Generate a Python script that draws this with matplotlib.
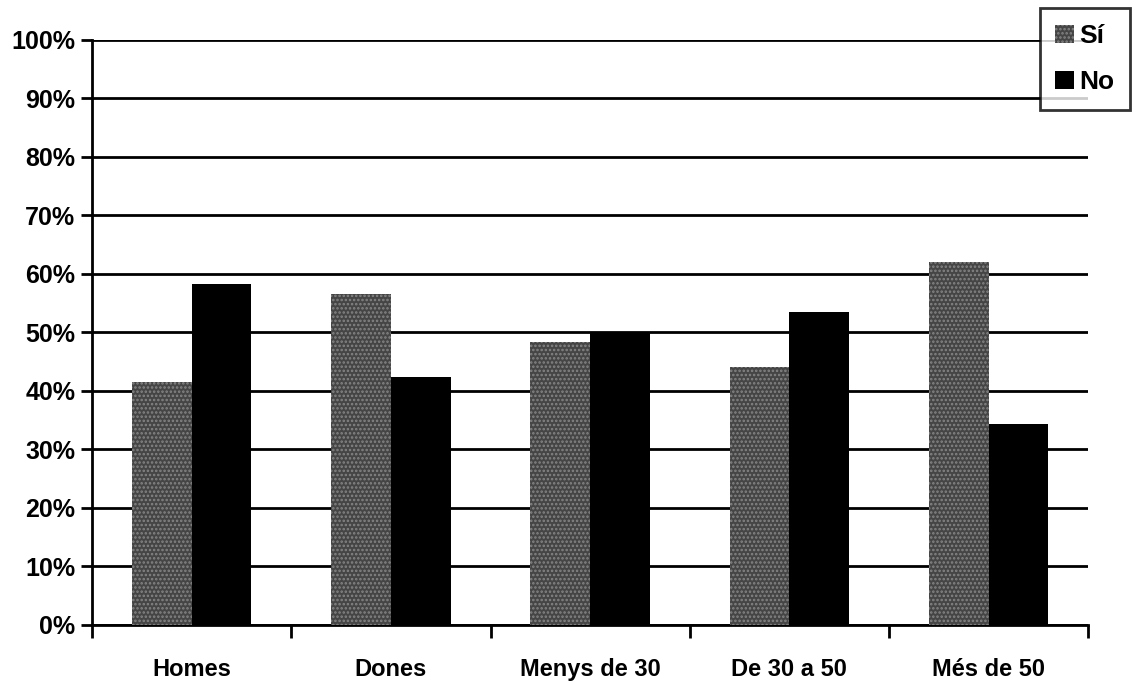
import numpy as np
import matplotlib.pyplot as plt
from matplotlib.ticker import PercentFormatter

categories = ['Homes', 'Dones', 'Menys de 30', 'De 30 a 50', 'Més de 50']
si_values = [41.5, 56.5, 48.3, 44.0, 62.0]
no_values = [58.3, 42.3, 49.8, 53.5, 34.3]
series_labels = ['Sí', 'No']

plt.rcParams['font.family'] = ['Liberation Sans', 'DejaVu Sans']
plt.rcParams['font.weight'] = 'bold'
plt.rcParams['hatch.linewidth'] = 1.2

fig = plt.figure(figsize=(11.37, 6.85), dpi=100)
ax = fig.add_axes([0.081, 0.088, 0.876, 0.854])

x = np.arange(len(categories))
width = 0.3
ax.bar(x - width / 2, si_values, width, color='#454545', edgecolor='#858585',
       hatch='....', linewidth=0, label=series_labels[0], zorder=3)
ax.bar(x + width / 2, no_values, width, color='black', linewidth=0,
       label=series_labels[1], zorder=3)

ax.set_xlim(-0.5, len(categories) - 0.5)
ax.set_ylim(0, 100)
ax.set_yticks(np.arange(0, 101, 10))
ax.yaxis.set_major_formatter(PercentFormatter(decimals=0))
ax.grid(axis='y', color='black', linewidth=2, zorder=0)
ax.set_axisbelow(True)

ax.set_xticks(x)
ax.set_xticklabels(categories, fontsize=17, fontweight='bold')
ax.set_xticks(np.arange(-0.5, len(categories)), minor=True)
ax.tick_params(axis='x', which='major', length=0, pad=24)
ax.tick_params(axis='x', which='minor', length=9, width=2, direction='out')
ax.tick_params(axis='y', length=8, width=2, direction='out', labelsize=18, pad=4)
for lbl in ax.get_yticklabels():
    lbl.set_fontweight('bold')

for side in ['top', 'right']:
    ax.spines[side].set_visible(False)
for side in ['left', 'bottom']:
    ax.spines[side].set_linewidth(2)

leg = fig.legend(loc='upper right', bbox_to_anchor=(0.994, 0.988), fontsize=19,
                 frameon=True, fancybox=False, edgecolor='black',
                 handlelength=0.7, handleheight=0.7, handletextpad=0.2,
                 labelspacing=0.85, borderpad=0.6, borderaxespad=0)
leg.get_frame().set_linewidth(2)

fig.savefig('out.png', dpi=100)
